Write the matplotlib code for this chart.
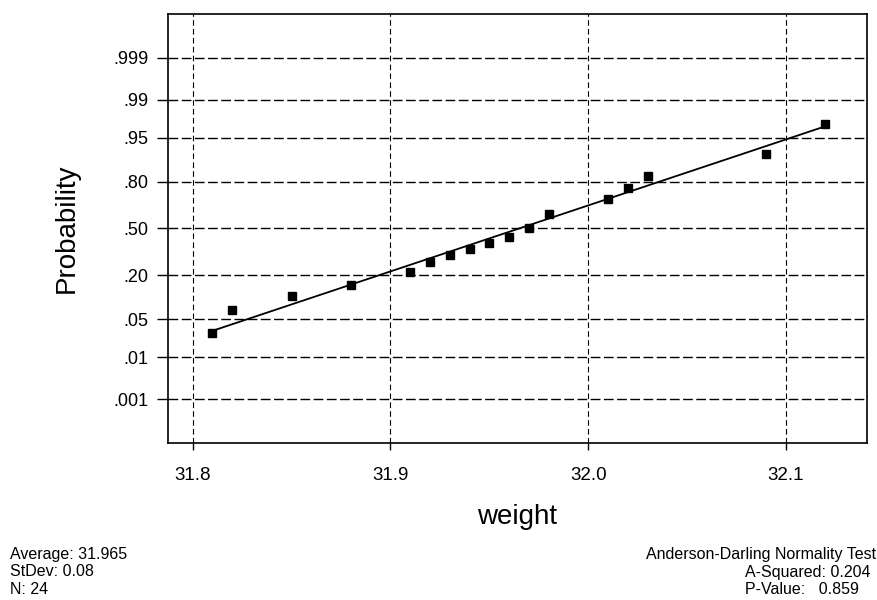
import math
import numpy as np
import matplotlib
matplotlib.use("Agg")
import matplotlib.pyplot as plt
from statistics import NormalDist

plt.rcParams['font.family'] = ['Liberation Sans', 'DejaVu Sans']

# distinct weights, how many times each occurs, and their plotted probabilities
weights = [31.81, 31.82, 31.85, 31.88, 31.91, 31.92, 31.93, 31.94, 31.95,
           31.96, 31.97, 31.98, 32.01, 32.02, 32.03, 32.09, 32.12]
counts = [1, 1, 1, 1, 2, 1, 1, 1, 1, 1, 2, 3, 2, 1, 2, 2, 1]
probs = [0.029, 0.070, 0.111, 0.152, 0.213, 0.275, 0.316, 0.357, 0.398,
         0.439, 0.500, 0.602, 0.705, 0.766, 0.828, 0.910, 0.971]

prob_ticks = [0.001, 0.01, 0.05, 0.20, 0.50, 0.80, 0.95, 0.99, 0.999]
prob_labels = ['.001', '.01', '.05', '.20', '.50', '.80', '.95', '.99', '.999']
x_ticks = [31.8, 31.9, 32.0, 32.1]
x_labels = ['31.8', '31.9', '32.0', '32.1']

stats_left = ['Average: 31.965', 'StDev: 0.08', 'N: 24']
stats_title = 'Anderson-Darling Normality Test'
stats_right = ['A-Squared: 0.204', 'P-Value:   0.859']

_nd = NormalDist()


def _ppf1(p):
    if not math.isfinite(p):
        return np.nan
    return _nd.inv_cdf(min(max(p, 1e-12), 1 - 1e-12))


def _cdf1(z):
    if not math.isfinite(z):
        return 0.0 if z < 0 else (1.0 if z > 0 else np.nan)
    return _nd.cdf(z)


_ppf = np.vectorize(_ppf1, otypes=[float])
_cdf = np.vectorize(_cdf1, otypes=[float])


def forward(p):
    return _ppf(np.asarray(p, dtype=float))


def inverse(z):
    return _cdf(np.asarray(z, dtype=float))


fig = plt.figure(figsize=(8.78, 6.0), dpi=100)
ax = fig.add_axes([0.1913, 0.2617, 0.7962, 0.715])
ax.set_yscale('function', functions=(forward, inverse))

# least-squares line of weight on normal score
w = np.repeat(weights, counts)
z = np.repeat(forward(probs), counts)
slope, intercept = np.polyfit(z, w, 1)
xl = np.array([min(weights), max(weights)])
ax.plot(xl, inverse((xl - intercept) / slope), color='black', lw=1.3, zorder=3)

ax.plot(weights, probs, linestyle='none', marker='s', markersize=5.4,
        color='black', zorder=4)

ax.set_xlim(31.7875, 32.141)
zl = 3.88
ax.set_ylim(float(inverse(-zl)), float(inverse(zl)))

ax.set_yticks(prob_ticks)
ax.set_yticklabels(prob_labels)
ax.set_xticks(x_ticks)
ax.set_xticklabels(x_labels)
ax.minorticks_off()

ax.yaxis.grid(True, color='black', linewidth=1.0, linestyle=(0, (7, 2.5)))
ax.xaxis.grid(True, color='black', linewidth=0.8, linestyle=(0, (5, 3)))
ax.set_axisbelow(True)

for s in ax.spines.values():
    s.set_linewidth(1.2)

ax.tick_params(axis='y', direction='out', length=8, width=1.0,
               labelsize=13, pad=6)
ax.tick_params(axis='x', direction='out', length=5, width=1.0,
               labelsize=13.5, pad=12)

ax.set_ylabel('Probability', fontsize=20, labelpad=24)
ax.set_xlabel('weight', fontsize=20, labelpad=15)

for i, t in enumerate(stats_left):
    fig.text(10 / 878, 1 - (555 + 17 * i) / 600, t, fontsize=11.5,
             ha='left', va='center')
fig.text(876 / 878, 1 - 555 / 600, stats_title, fontsize=11.5,
         ha='right', va='center')
for i, t in enumerate(stats_right):
    fig.text(745 / 878, 1 - (572 + 17 * i) / 600, t, fontsize=11.5,
             ha='left', va='center')

fig.savefig('out.png', dpi=100)
